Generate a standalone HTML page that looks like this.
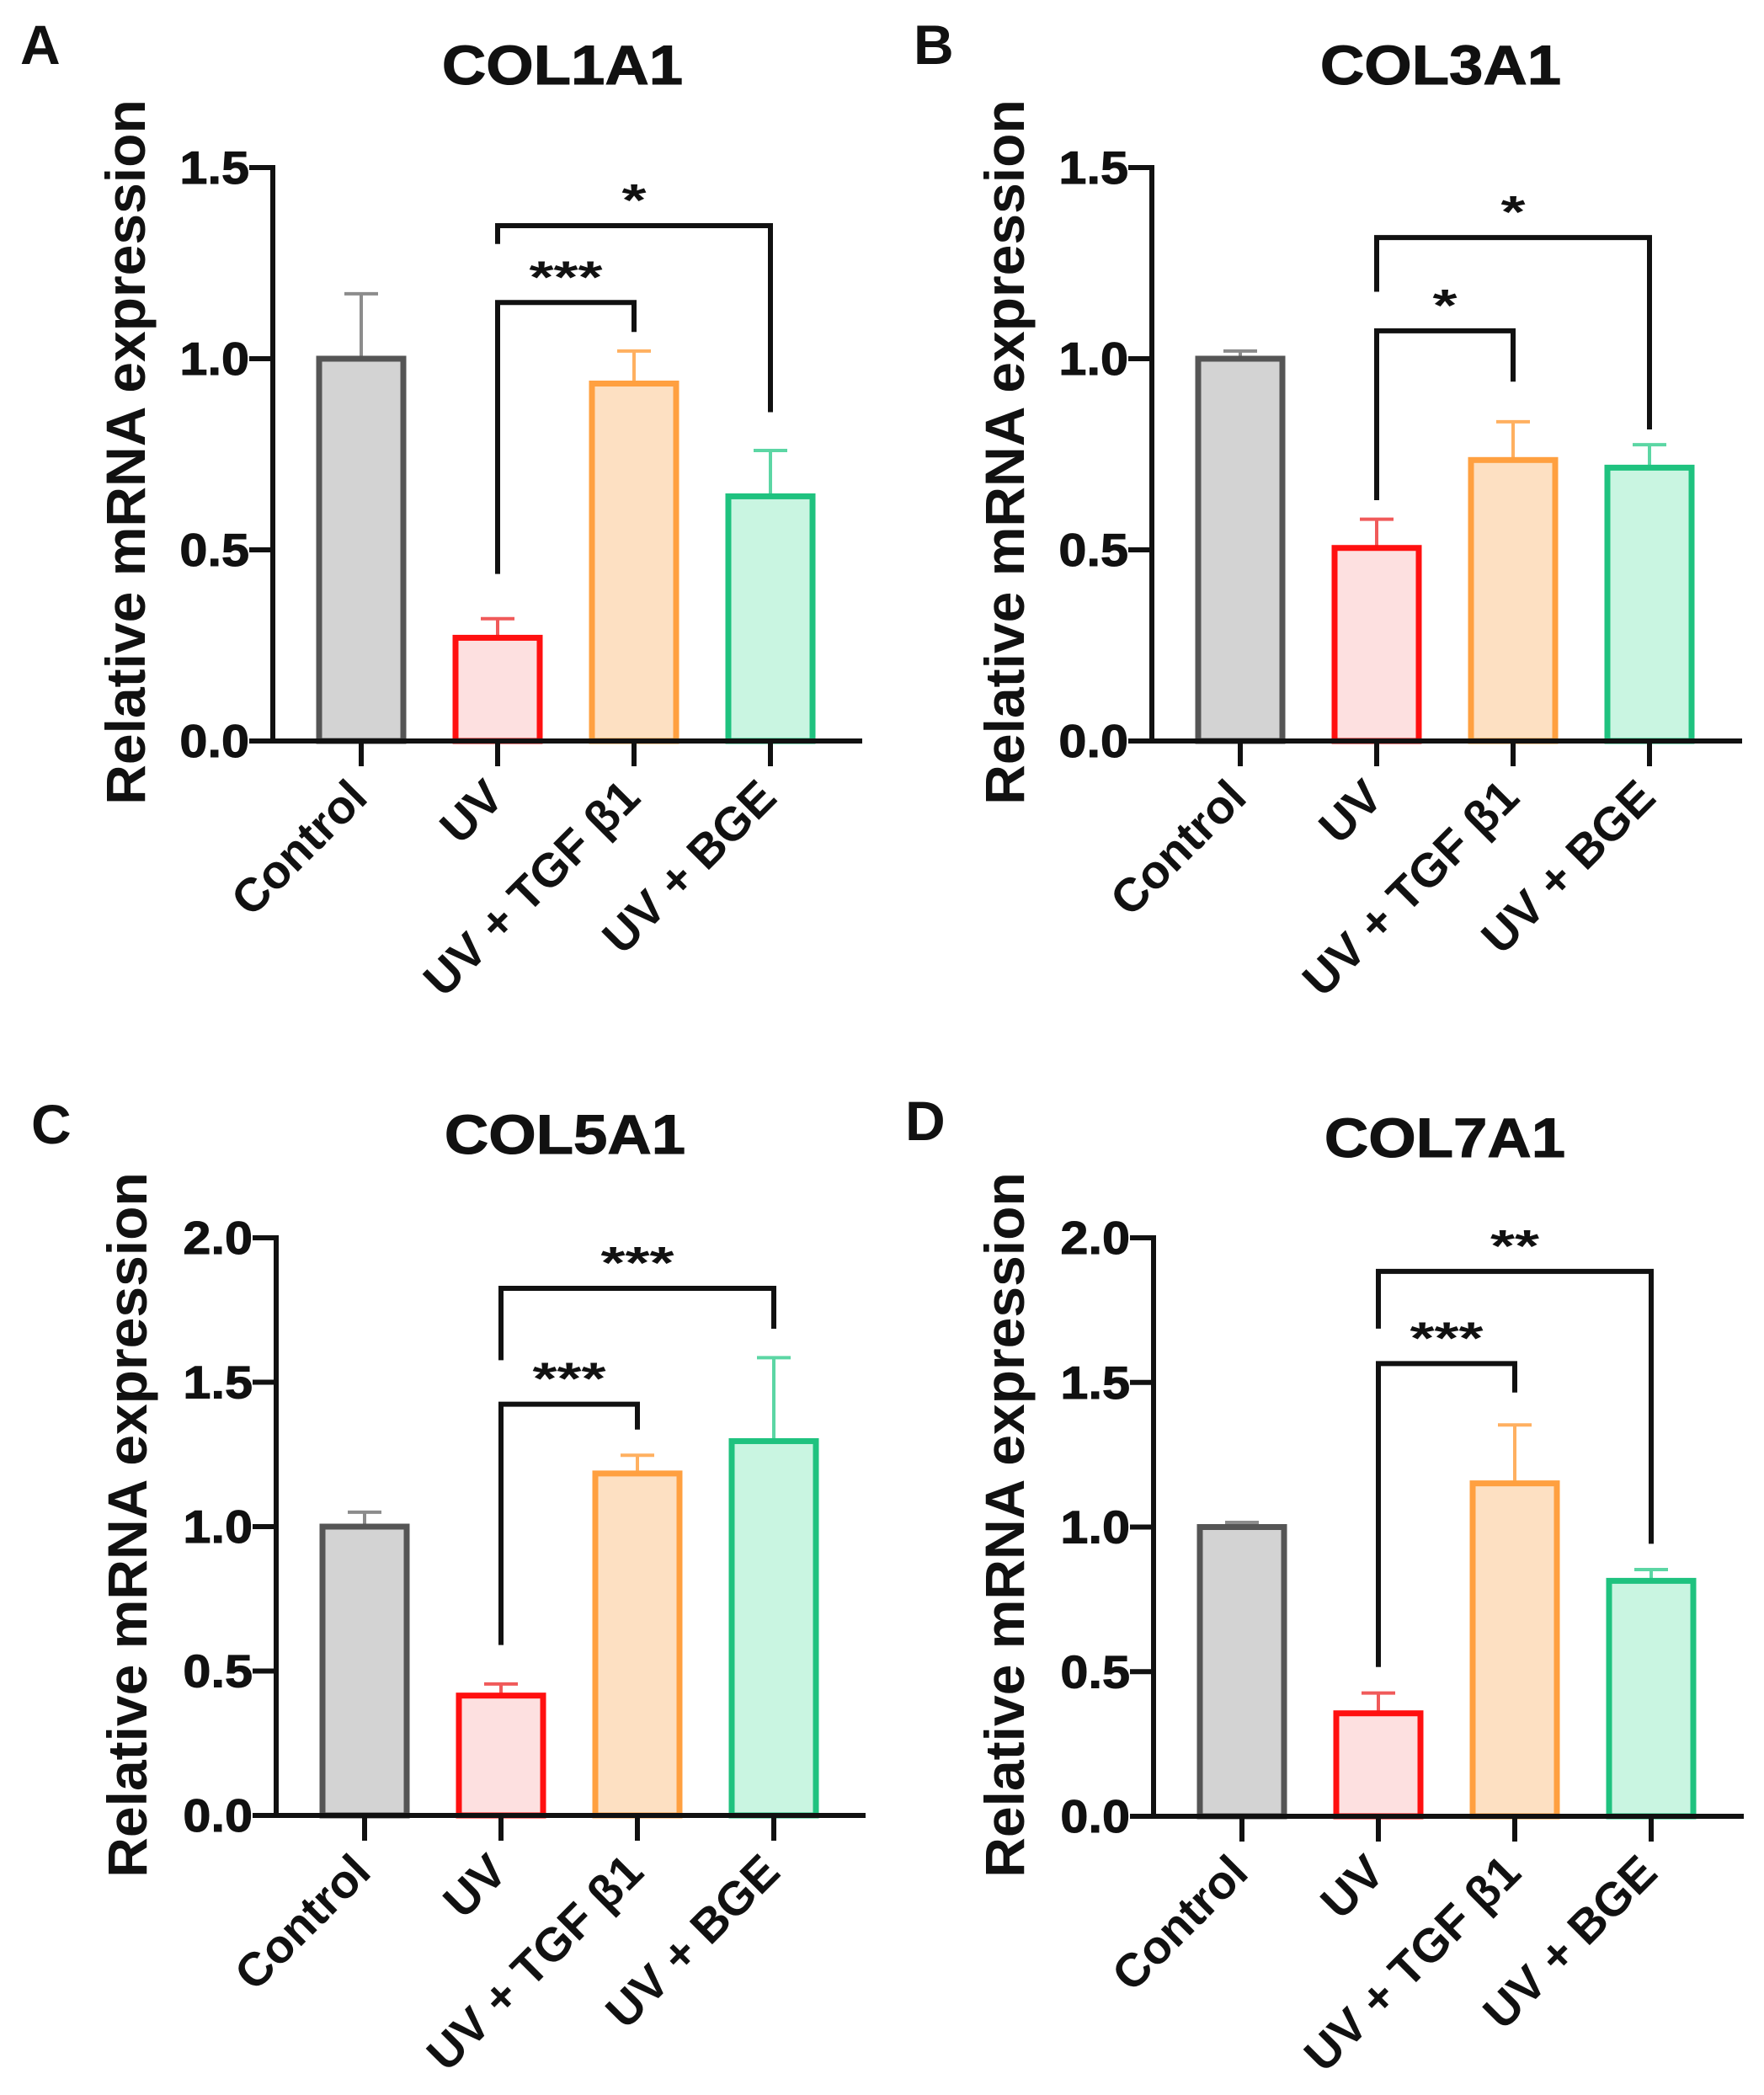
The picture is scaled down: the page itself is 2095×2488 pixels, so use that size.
<!DOCTYPE html>
<html><head><meta charset="utf-8"><style>
html,body{margin:0;padding:0;background:#fff;}
svg{display:block;}
text{font-family:"Liberation Sans",Arial,sans-serif;font-weight:bold;fill:#111;}
</style></head><body>
<svg id="fig" width="2095" height="2488" viewBox="0 0 2095 2488" xmlns="http://www.w3.org/2000/svg"></svg>
<script>
const categories = ["Control", "UV", "UV + TGF \u03b21", "UV + BGE"];
const panelTitles = ["COL1A1", "COL3A1", "COL5A1", "COL7A1"];
const panelLetters = ["A", "B", "C", "D"];
const valuesCOL1A1 = [1.0, 0.27, 0.935, 0.64];
const errorsCOL1A1 = [1.17, 0.32, 1.02, 0.76];
const valuesCOL3A1 = [1.0, 0.505, 0.735, 0.715];
const errorsCOL3A1 = [1.02, 0.58, 0.835, 0.775];
const valuesCOL5A1 = [1.0, 0.415, 1.184, 1.296];
const errorsCOL5A1 = [1.05, 0.455, 1.247, 1.585];
const valuesCOL7A1 = [1.0, 0.356, 1.151, 0.814];
const errorsCOL7A1 = [1.016, 0.426, 1.353, 0.853];
const ticksCOL1A1 = ["0.0", "0.5", "1.0", "1.5"];
const ticksCOL5A1 = ["0.0", "0.5", "1.0", "1.5", "2.0"];
const starsCOL1A1 = ["***", "*"];
const starsCOL3A1 = ["*", "*"];
const starsCOL5A1 = ["***", "***"];
const starsCOL7A1 = ["***", "**"];
// bracket values: [top, leftLegEnd, rightLegEnd] for inner (UV vs TGF) and outer (UV vs BGE)
const bracketsCOL1A1 = [[1.147, 0.437, 1.07], [1.348, 1.30, 0.86]];
const bracketsCOL3A1 = [[1.073, 0.63, 0.94], [1.317, 1.175, 0.815]];
const bracketsCOL5A1 = [[1.424, 0.59, 1.336], [1.825, 1.576, 1.685]];
const bracketsCOL7A1 = [[1.565, 0.516, 1.465], [1.884, 1.686, 0.942]];

const strokes = ["#555555", "#ff1010", "#ffa040", "#1fc27f"];
const fills = ["#d3d3d3", "#fde0e0", "#fde0c2", "#c9f5e1"];
const errCols = ["#8c8c8c", "#f05a5a", "#ffb060", "#5cd6a4"];

const svg = document.getElementById('fig');
const NS = "http://www.w3.org/2000/svg";
function mk(tag, attrs, parent) {
  const e = document.createElementNS(NS, tag);
  for (const k in attrs) e.setAttribute(k, attrs[k]);
  parent.appendChild(e);
  return e;
}

const panels = [
  {ax:324, y0:880, yMax:1.5, yTop:199, right:1024, vals:valuesCOL1A1, errs:errorsCOL1A1, ticks:ticksCOL1A1, stars:starsCOL1A1, br:bracketsCOL1A1, lx:24, ly:76, tx:668, ty:100, ycx:172, ycy:537},
  {ax:1368, y0:880, yMax:1.5, yTop:199, right:2069, vals:valuesCOL3A1, errs:errorsCOL3A1, ticks:ticksCOL1A1, stars:starsCOL3A1, br:bracketsCOL3A1, lx:1085, ly:76, tx:1711, ty:100, ycx:1216, ycy:537},
  {ax:328, y0:2156, yMax:2.0, yTop:1470, right:1028, vals:valuesCOL5A1, errs:errorsCOL5A1, ticks:ticksCOL5A1, stars:starsCOL5A1, br:bracketsCOL5A1, lx:37, ly:1358, tx:671, ty:1370, ycx:174, ycy:1811},
  {ax:1370, y0:2157, yMax:2.0, yTop:1470, right:2071, vals:valuesCOL7A1, errs:errorsCOL7A1, ticks:ticksCOL5A1, stars:starsCOL7A1, br:bracketsCOL7A1, lx:1075, ly:1354, tx:1716, ty:1374, ycx:1216, ycy:1811}
];

panels.forEach((p, pi) => {
  const g = mk('g', {}, svg);
  
  
  const yScale = v => p.y0 - v * (p.y0 - p.yTop) / p.yMax;
  const xScale = i => p.ax + 105 + i * 162;
  const bw = 100;

  const letter = mk('text', {x:p.lx, y:p.ly, 'font-size':66}, g);
  letter.textContent = panelLetters[pi];
  
  

  const title = mk('text', {transform:`translate(${p.tx},${p.ty}) scale(1.1,1)`, 'font-size':66, 'text-anchor':'middle', stroke:'#111', 'stroke-width':1}, g);
  title.textContent = panelTitles[pi];
  
  

  const yt = mk('text', {transform:`translate(${p.ycx},${p.ycy}) rotate(-90)`, 'font-size':66, 'text-anchor':'middle'}, g);
  yt.textContent = "Relative mRNA expression";
  
  

  p.vals.forEach((v, i) => {
    const cx = xScale(i);
    const el = mk('line', {x1:cx, x2:cx, y1:yScale(v), y2:yScale(p.errs[i]), stroke:errCols[i], 'stroke-width':4}, g);
    
    
    const cap = mk('line', {x1:cx-20, x2:cx+20, y1:yScale(p.errs[i]), y2:yScale(p.errs[i]), stroke:errCols[i], 'stroke-width':4}, g);
    
    
    const r = mk('rect', {x:cx-bw/2, y:yScale(v), width:bw, height:p.y0 - yScale(v), fill:fills[i], stroke:strokes[i], 'stroke-width':7}, g);
    
    
    const tk = mk('line', {x1:cx, x2:cx, y1:p.y0, y2:p.y0+30, stroke:'#111', 'stroke-width':6}, g);
    
    
    const lb = mk('text', {transform:`translate(${cx+10},${p.y0+70}) rotate(-45)`, 'font-size':56, 'text-anchor':'end'}, g);
    lb.textContent = categories[i];
    
    
  });

  const ya = mk('line', {x1:p.ax, x2:p.ax, y1:p.yTop-3, y2:p.y0+3, stroke:'#111', 'stroke-width':6}, g);
  
  
  const xa = mk('line', {x1:p.ax-28, x2:p.right, y1:p.y0, y2:p.y0, stroke:'#111', 'stroke-width':6}, g);
  
  
  p.ticks.forEach(t => {
    const y = yScale(parseFloat(t));
    const tl = mk('line', {x1:p.ax-28, x2:p.ax, y1:y, y2:y, stroke:'#111', 'stroke-width':6}, g);
    
    
    const tt = mk('text', {transform:`translate(${p.ax-28},${y+19}) scale(1.08,1)`, 'font-size':55, 'text-anchor':'end', stroke:'#111', 'stroke-width':1}, g);
    tt.textContent = t;
    
    
  });

  p.br.forEach((b, bi) => {
    const x1 = xScale(1), x2 = xScale(bi === 0 ? 2 : 3);
    const yt0 = yScale(b[0]);
    const path = mk('path', {d:`M${x1},${yScale(b[1])} V${yt0} H${x2} V${yScale(b[2])}`, fill:'none', stroke:'#111', 'stroke-width':6}, g);
    
    
    const s = p.stars[bi];
    const st = mk('text', {x:(x1+x2)/2, y:yt0-12, 'font-size':54, 'text-anchor':'middle', textLength:s.length*29, lengthAdjust:'spacingAndGlyphs'}, g);
    st.textContent = s;
    
    
  });
});
</script>
</body></html>
